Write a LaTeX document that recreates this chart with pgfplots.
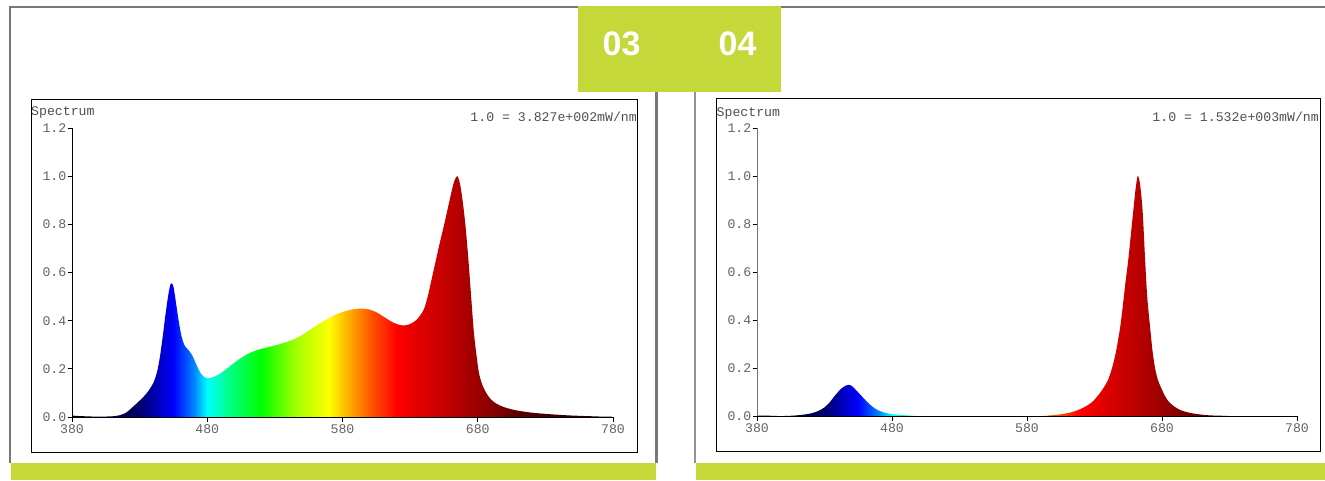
\documentclass[border=0pt]{standalone}
\usepackage{fontspec}
\setmainfont{Liberation Sans}
\newfontfamily\mono{Liberation Mono}
\usepackage{pgfplots}
\pgfplotsset{compat=1.18}
\usepackage{pgfplotstable}

\definecolor{lime}{RGB}{196,216,58}
\definecolor{panelgray}{RGB}{120,120,120}
\definecolor{txtgray}{RGB}{80,80,80}
\definecolor{tickgray}{RGB}{100,100,100}

% horizontal spectrum shading: 25bp = 380 nm, 75bp = 780 nm
\pgfdeclarehorizontalshading{spectrum}{100bp}{%
rgb(0bp)=(0.04,0,0.08);
rgb(25bp)=(0.04,0,0.08);
rgb(28.75bp)=(0,0,0.24);
rgb(31.25bp)=(0,0,0.43);
rgb(33.125bp)=(0,0,0.78);
rgb(34.375bp)=(0,0,1);
rgb(36.25bp)=(0,0.51,1);
rgb(37.5bp)=(0,1,1);
rgb(39.375bp)=(0,1,0.55);
rgb(42.5bp)=(0,1,0);
rgb(45.625bp)=(0.63,1,0);
rgb(48.75bp)=(1,1,0);
rgb(50.625bp)=(1,0.67,0);
rgb(52.5bp)=(1,0.35,0);
rgb(55bp)=(1,0,0);
rgb(57.5bp)=(0.86,0,0);
rgb(60.625bp)=(0.71,0,0);
rgb(63.75bp)=(0.53,0,0);
rgb(66.25bp)=(0.35,0,0);
rgb(70bp)=(0.2,0,0);
rgb(75bp)=(0.06,0,0);
rgb(100bp)=(0.06,0,0)}

\pgfplotstableread{
x y
380 0.006
385 0.004
390 0.003
395 0.002
400 0.002
405 0.002
410 0.003
415 0.007
420 0.018
425 0.042
430 0.068
435 0.097
440 0.140
443 0.190
445 0.250
447 0.330
449 0.420
451 0.500
452.5 0.545
453.5 0.555
455 0.542
457 0.470
459 0.395
461 0.335
463 0.300
465 0.285
467 0.272
469 0.255
471 0.230
473 0.205
475 0.183
477 0.170
479 0.163
481 0.161
484 0.165
488 0.175
492 0.190
496 0.207
500 0.225
505 0.245
510 0.262
515 0.274
520 0.283
525 0.290
530 0.297
535 0.305
540 0.314
545 0.325
550 0.340
555 0.358
560 0.377
565 0.395
570 0.411
575 0.425
580 0.436
585 0.444
590 0.449
595 0.450
600 0.446
605 0.435
610 0.418
615 0.400
620 0.386
625 0.380
630 0.386
635 0.405
640 0.445
643 0.500
646 0.575
649 0.650
652 0.725
655 0.795
658 0.870
661 0.945
663 0.985
665 1.000
667 0.965
669 0.890
671 0.790
673 0.660
675 0.510
677 0.360
679 0.260
681 0.180
684 0.125
688 0.085
692 0.062
696 0.049
700 0.040
705 0.032
710 0.026
720 0.018
730 0.013
740 0.009
750 0.006
760 0.004
770 0.002
780 0.001
}\specA

\pgfplotstableread{
x y
380 0.002
385 0.002
390 0.001
395 0.000
400 0.000
405 0.001
410 0.003
415 0.006
420 0.011
425 0.020
430 0.036
434 0.058
437 0.080
440 0.100
443 0.117
446 0.127
448 0.130
450 0.126
452 0.116
455 0.098
458 0.080
461 0.062
464 0.046
467 0.033
470 0.023
475 0.013
480 0.008
485 0.005
490 0.003
495 0.001
500 0.000
590 0.000
595 0.002
600 0.004
605 0.007
610 0.012
615 0.019
620 0.030
625 0.045
629 0.062
633 0.088
637 0.120
640 0.150
643 0.200
646 0.270
649 0.370
651 0.460
653 0.560
655 0.650
657 0.760
659 0.870
660.5 0.950
662 1.000
663.5 0.975
665 0.900
666 0.820
667.5 0.650
669 0.500
671 0.380
673 0.270
675 0.195
677 0.150
679 0.122
682 0.085
685 0.060
689 0.040
694 0.024
700 0.014
706 0.008
712 0.004
718 0.002
725 0.001
730 0.000
780 0.000
}\specB

\newcommand{\monofont}{\mono\fontsize{13.2}{14}\selectfont}

\pgfplotsset{specaxis/.style={
  scale only axis, anchor=south west,
  xmin=380, xmax=780, ymin=0, ymax=1.2,
  axis x line*=bottom, axis y line*=left,
  x axis line style={-, black, line width=1pt},
  y axis line style={-, black, line width=1pt},
  xtick={380,480,580,680,780},
  ytick={0,0.2,0.4,0.6,0.8,1.0,1.2},
  tick align=outside, major tick length=4.5pt,
  tick style={black, line width=0.8pt},
  yticklabel style={/pgf/number format/fixed, /pgf/number format/fixed zerofill, /pgf/number format/precision=1, /tikz/inner sep=1pt},
  /pgf/number format/assume math mode=true,
  tick label style={font=\monofont, text=tickgray},
  xticklabel style={/tikz/inner sep=2.5pt},
  no markers, axis on top, clip=true,
}}

\begin{document}
\begin{tikzpicture}
\useasboundingbox (0pt,0pt) rectangle (1325pt,-480pt);
\fill[white] (0pt,0pt) rectangle (1325pt,-480pt);

% panel borders
\draw[panelgray, line width=2.2pt] (10pt,-463pt) -- (10pt,-7pt) -- (1325pt,-7pt);
\draw[panelgray, line width=2.2pt] (656.5pt,-7pt) -- (656.5pt,-463pt);
\draw[panelgray!80, line width=1.8pt] (695pt,-7pt) -- (695pt,-463pt);

% bottom green bars
\fill[lime] (11pt,-463pt) rectangle (656pt,-480pt);
\fill[lime] (696pt,-463pt) rectangle (1325pt,-480pt);

% chart frames
\draw[black, line width=1pt] (31pt,-99pt) rectangle (637.5pt,-452.5pt);
\draw[black, line width=1pt] (716.5pt,-98.5pt) rectangle (1320.5pt,-451pt);

% ---------- chart 03 ----------
\begin{axis}[specaxis, at={(72pt,-417pt)}, width=541pt, height=289pt]
\addplot[draw=none, shade, shading=spectrum, smooth, tension=0.5] table[x=x, y=y] {\specA} \closedcycle;
\node[font=\monofont, text=txtgray, anchor=base]
  at (rel axis cs:0.5,0) [yshift=-28.5pt] {Wavelength(nm)};
\end{axis}

% ---------- chart 04 ----------
\begin{axis}[specaxis, at={(757pt,-416pt)}, width=540pt, height=288pt,
  y axis line style={-, black!55, line width=1pt}]
\addplot[draw=none, shade, shading=spectrum, smooth, tension=0.5] table[x=x, y=y] {\specB} \closedcycle;
\node[font=\monofont, text=txtgray, anchor=base]
  at (rel axis cs:0.5,0) [yshift=-28pt] {Wavelength(nm)};
\end{axis}

% header texts
\node[font=\monofont, text=txtgray, anchor=base west, inner sep=0pt]
  at (31pt,-115.5pt) {Spectrum};
\node[font=\monofont, text=txtgray, anchor=base east, inner sep=0pt]
  at (637pt,-121pt) {1.0 = 3.827e+002mW/nm};
\node[font=\monofont, text=txtgray, anchor=base west, inner sep=0pt]
  at (716.5pt,-116.5pt) {Spectrum};
\node[font=\monofont, text=txtgray, anchor=base east, inner sep=0pt]
  at (1319pt,-121.5pt) {1.0 = 1.532e+003mW/nm};

% green label box
\fill[lime] (578pt,-6pt) rectangle (781pt,-92pt);
\node[font=\bfseries\fontsize{34}{34}\selectfont, text=white] at (621.5pt,-44pt) {03};
\node[font=\bfseries\fontsize{34}{34}\selectfont, text=white] at (737.5pt,-44pt) {04};
\end{tikzpicture}
\end{document}
